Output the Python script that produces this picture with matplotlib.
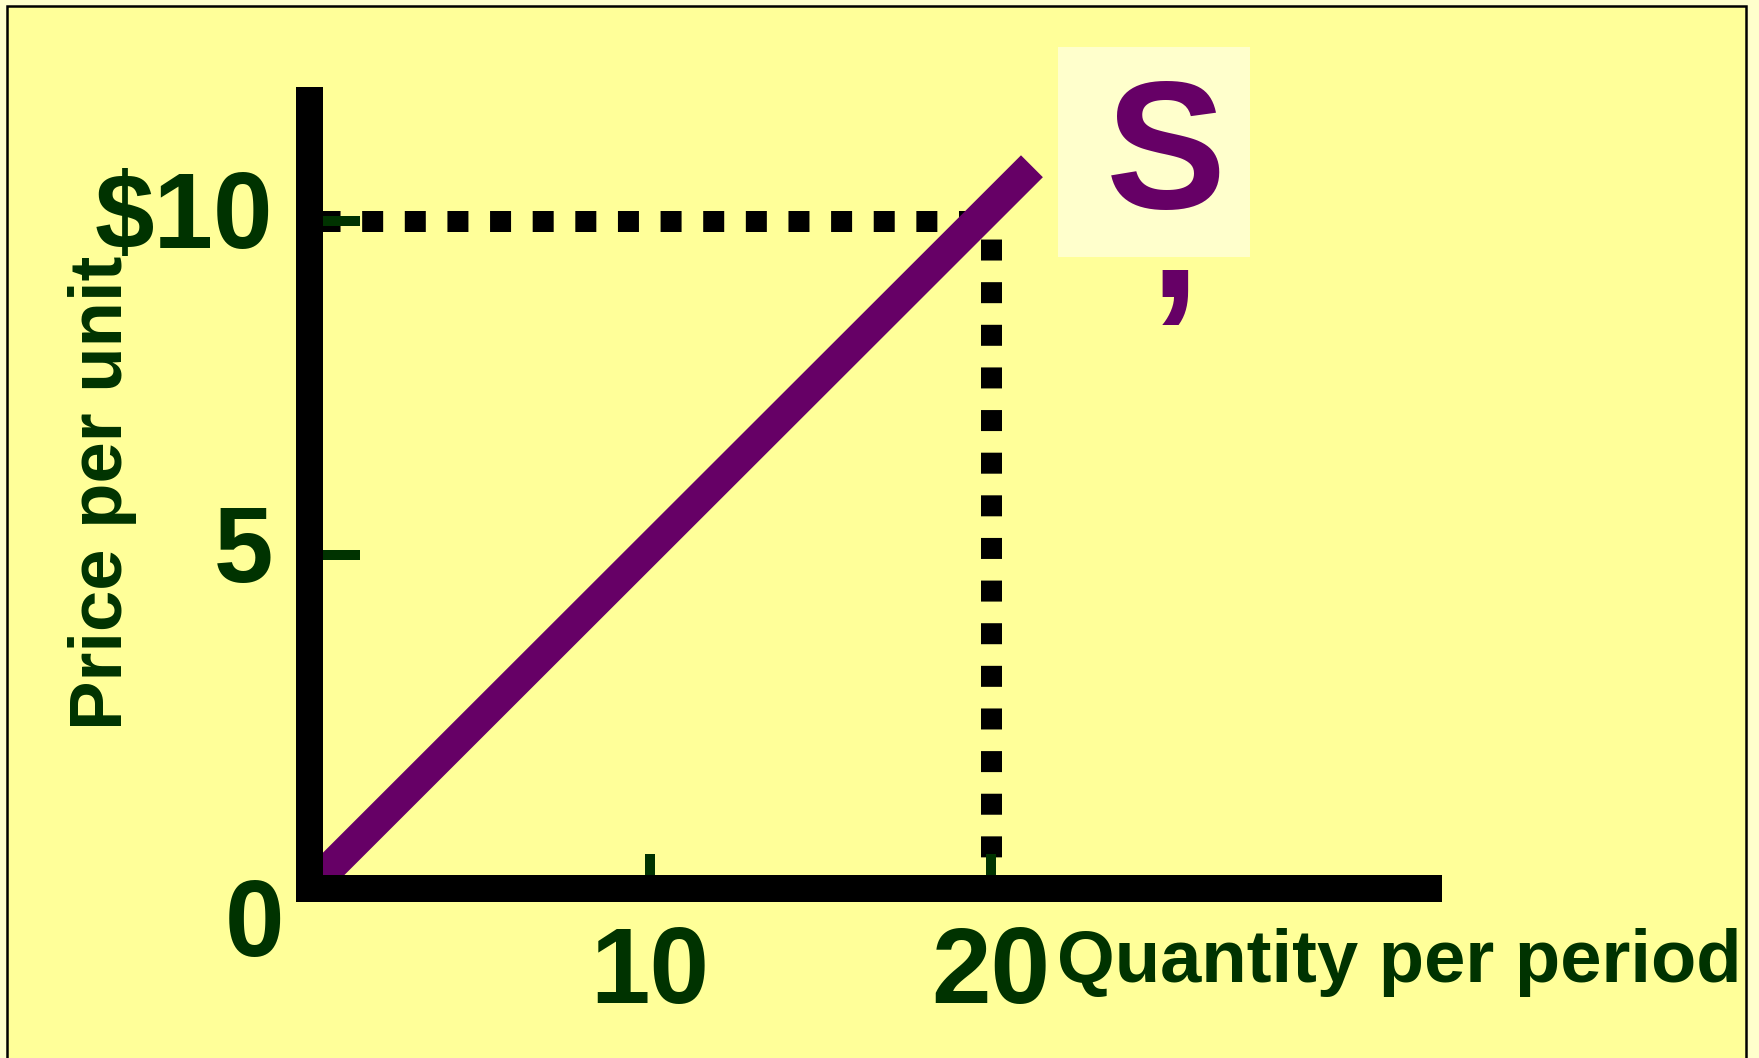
import matplotlib
matplotlib.use("Agg")
import matplotlib.pyplot as plt
from matplotlib.patches import Rectangle

# Values
supply_q = [0, 21.2]
supply_p = [0, 10.82]
point_q = 20
point_p = 10
xticks = [10, 20]
xticklabels = ["10", "20"]
yticks = [5, 10]
yticklabels = ["5", "$10"]

green = "#003300"
purple = "#660066"

plt.rcParams['font.family'] = ['Liberation Sans', 'DejaVu Sans']
plt.rcParams['font.weight'] = 'bold'
plt.rcParams['axes.labelweight'] = 'bold'

fig = plt.figure(figsize=(17.59, 10.58), dpi=100)
fig.patch.set_facecolor("#FFFFCC")

# Slide background with its black frame
frame = Rectangle((0.0037, -0.05), 0.98919, 1.04433, transform=fig.transFigure,
                  facecolor="#FFFF99", edgecolor="black", linewidth=1.8, zorder=-1)
fig.add_artist(frame)

ax = fig.add_axes([0.17567, 0.16021, 0.63616, 0.74574])
ax.set_facecolor("none")
ax.set_xlim(0, 32.815)
ax.set_ylim(0, 11.82)

# Thick axes
for side in ["top", "right"]:
    ax.spines[side].set_visible(False)
for side in ["left", "bottom"]:
    ax.spines[side].set_linewidth(19.44)
    ax.spines[side].set_color("black")
    ax.spines[side].set_zorder(3)

# Ticks (labels are drawn below as annotations)
ax.set_xticks(xticks, ["" for t in xticks])
ax.set_yticks(yticks, ["" for t in yticks])
ax.tick_params(axis="x", direction="in", length=24.84, width=7.2, color=green)
ax.tick_params(axis="y", direction="in", length=36.7, width=7.2, color=green)

# Dotted guides to the point (20, 10)
ax.plot([0, point_q], [point_p, point_p], color="black", linewidth=15.12,
        linestyle=(1.552, (1, 1.03)), zorder=1)
ax.plot([point_q, point_q], [point_p, 0], color="black", linewidth=15.12,
        linestyle=(1.171, (1, 1.03)), zorder=1)

# Supply line
ax.plot(supply_q, supply_p, color=purple, linewidth=22.3,
        solid_capstyle="butt", zorder=1.2)

# Tick labels
for q, lab in zip(xticks, xticklabels):
    ax.annotate(lab, (q, 0), xytext=(0, -114.5), textcoords="offset pixels",
                ha="center", va="baseline", fontsize=77, color=green,
                annotation_clip=False)
for p, lab in zip(yticks, yticklabels):
    ax.annotate(lab, (0, p), xytext=(-36, -27), textcoords="offset pixels",
                ha="right", va="baseline", fontsize=77, color=green,
                annotation_clip=False)
ax.annotate("0", (0, 0), xytext=(-25, -67.5), textcoords="offset pixels",
            ha="right", va="baseline", fontsize=77, color=green,
            annotation_clip=False)

# Axis titles
ax.set_xlabel("Quantity per period", fontsize=53.5, fontweight="bold",
              color=green, ha="left", va="top")
ax.xaxis.set_label_coords(0.6685, -0.05006)
ax.set_ylabel("Price per unit", fontsize=53.5, fontweight="bold", color=green)
ax.yaxis.set_label_coords(-0.1541, 0.5019)

# S label in its pale box
box = Rectangle((0.60148, 0.75709), 0.10915, 0.19849, transform=fig.transFigure,
                facecolor="#FFFFCC", edgecolor="none", zorder=3.5, clip_on=False)
ax.add_artist(box)
ax.text(0.7654, 0.8625, "S", transform=ax.transAxes, fontsize=130, color=purple,
        ha="center", va="baseline", zorder=4)
ax.text(0.7739, 0.7497, ",", transform=ax.transAxes, fontsize=130, color=purple,
        ha="center", va="baseline", zorder=4)

fig.savefig("out.png", dpi=100, facecolor=fig.get_facecolor())
